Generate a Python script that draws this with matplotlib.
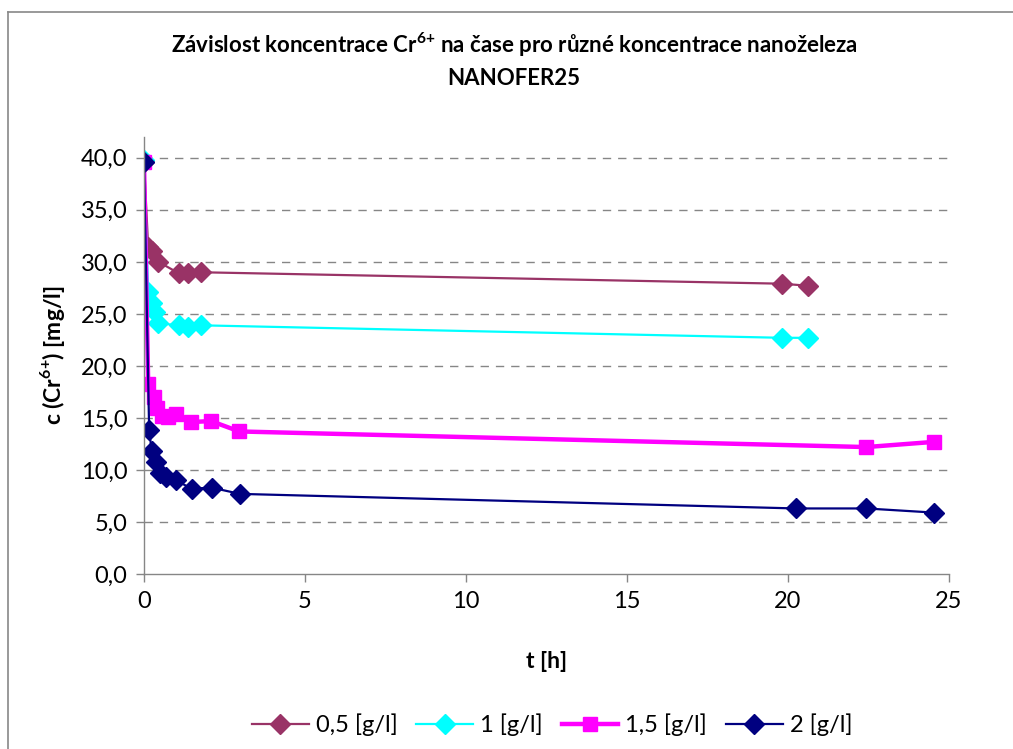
import matplotlib
matplotlib.use("Agg")
import matplotlib.pyplot as plt
from matplotlib.lines import Line2D
from matplotlib.ticker import FuncFormatter

plt.rcParams['font.family'] = ['Lato', 'DejaVu Sans']
plt.rcParams['mathtext.fontset'] = 'custom'
plt.rcParams['mathtext.rm'] = 'Lato'
plt.rcParams['mathtext.bf'] = 'Lato:bold'

# data (t in hours, c in mg/l)
t_05 = [0, 0.13, 0.26, 0.45, 1.08, 1.37, 1.77, 19.82, 20.63]
c_05 = [39.6, 31.4, 31.0, 30.0, 28.9, 28.9, 29.0, 27.9, 27.7]

t_1 = [0, 0.13, 0.26, 0.34, 0.45, 1.08, 1.38, 1.77, 19.82, 20.63]
c_1 = [39.8, 27.1, 26.0, 25.2, 24.1, 23.9, 23.7, 23.9, 22.7, 22.7]

t_15 = [0, 0.13, 0.31, 0.41, 0.57, 0.73, 0.99, 1.45, 2.08, 2.96, 22.43, 24.54]
c_15 = [39.6, 18.3, 17.0, 16.0, 15.2, 15.1, 15.4, 14.6, 14.7, 13.7, 12.2, 12.7]

t_2 = [0, 0.16, 0.24, 0.36, 0.49, 0.67, 0.99, 1.48, 2.1, 2.98, 20.24, 22.43, 24.54]
c_2 = [39.6, 13.8, 11.8, 10.8, 9.7, 9.3, 9.0, 8.2, 8.3, 7.7, 6.3, 6.3, 5.9]

labels = ["0,5 [g/l]", "1 [g/l]", "1,5 [g/l]", "2 [g/l]"]

W, H = 1013, 749
fig = plt.figure(figsize=(W / 100, H / 100), dpi=100)

# chart area border (only left and top visible)
fig.add_artist(Line2D([8 / W, 8 / W], [0, 1 - 12 / H], color="#888888", lw=1.2))
fig.add_artist(Line2D([8 / W, 1], [1 - 12 / H, 1 - 12 / H], color="#888888", lw=1.2))

ax = fig.add_axes([144 / W, 1 - 574 / H, (949 - 144) / W, (574 - 137) / H])

ax.plot(t_05, c_05, color="#993366", lw=1.6, marker="D", ms=10, label=labels[0])
ax.plot(t_1, c_1, color="#00FFFF", lw=1.6, marker="D", ms=10, label=labels[1])
ax.plot(t_15, c_15, color="#FF00FF", lw=3.2, marker="s", ms=10.5, label=labels[2])
ax.plot(t_2, c_2, color="#000080", lw=1.6, marker="D", ms=10, label=labels[3])

ax.set_xlim(0, 25)
ax.set_ylim(0, 42)
ax.set_xticks(range(0, 26, 5))
ax.set_yticks(range(0, 41, 5))
ax.yaxis.set_major_formatter(FuncFormatter(lambda v, p: ("%.1f" % v).replace(".", ",")))

for y in range(5, 41, 5):
    ax.axhline(y, color="#868686", lw=1, dashes=(6, 5), zorder=0)

for s in ["top", "right"]:
    ax.spines[s].set_visible(False)
for s in ["left", "bottom"]:
    ax.spines[s].set_color("#868686")
    ax.spines[s].set_linewidth(1)
ax.tick_params(direction="out", length=6, width=1, color="#868686", labelsize=17, pad=6)

ax.set_xlabel("t [h]", fontsize=16.5, fontweight="bold", labelpad=28)
ax.set_ylabel(r"c (Cr$^{\mathbf{6{+}}}$) [mg/l]", fontsize=16.5, fontweight="bold", labelpad=10)

fig.text(514 / W, 1 - 60 / H,
         "Závislost koncentrace Cr$^{\\mathbf{6{+}}}$ na čase pro různé koncentrace nanoželeza\nNANOFER25",
         ha="center", va="center", fontsize=16, fontweight="bold", linespacing=1.5)

fig.legend(loc="center", bbox_to_anchor=(552 / W, 1 - 725 / H), ncol=4,
           frameon=False, fontsize=17, handlelength=2.4, columnspacing=0.8, handletextpad=0.3)

fig.savefig("out.png", dpi=100)
